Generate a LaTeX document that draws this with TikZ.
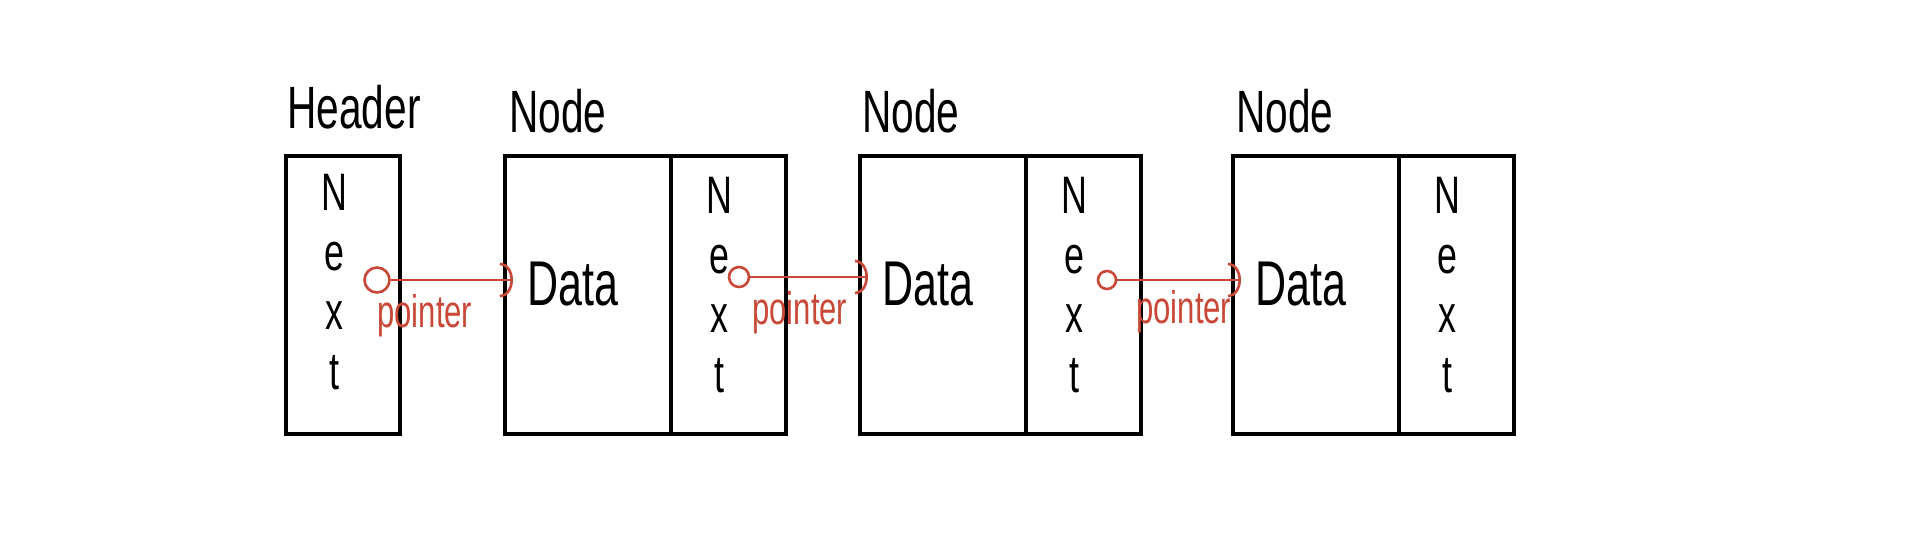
\documentclass[tikz,border=0pt]{standalone}
\usepackage{fontspec}
\newfontfamily\hand[FakeStretch=0.68]{Liberation Sans}
\usetikzlibrary{positioning,arrows.meta}
\definecolor{ptrred}{RGB}{201,72,55}
\tikzset{
  cell/.style={draw,line width=2pt,minimum height=5.56cm,inner sep=0pt,outer sep=0pt},
  datacell/.style={cell,minimum width=3.32cm},
  nextcell/.style={cell,minimum width=2.3cm},
  handtext/.style={inner sep=0pt,align=center,font=\hand\fontsize{34}{38}\selectfont},
  nexttext/.style={handtext,font=\hand\fontsize{30}{34}\selectfont,xshift=-0.18cm,yshift=0.2cm},
  datatext/.style={handtext,font=\hand\fontsize{36}{40}\selectfont,xshift=-0.3cm,yshift=0.22cm},
  title/.style={handtext},
  ptr/.style={circle,draw=ptrred,line width=1.5pt,minimum size=0.4cm,inner sep=0pt},
  link/.style={ptrred,line width=1.5pt,-{Arc Barb[length=2.6mm,width=7mm,line width=1.5pt]},shorten >=-0.16cm},
  ptrlbl/.style={inner sep=0pt,text=ptrred,font=\hand\fontsize{26}{28}\selectfont}
}
\begin{document}
\begin{tikzpicture}
\useasboundingbox (0,0) rectangle (38.64,10.64);
% boxes
\node[nextcell,minimum width=2.28cm] (hdr) at (6.86,4.74) {};
\node[datacell] (data1) at (11.76,4.74) {};
\node[nextcell,right=0pt of data1] (next1) {};
\node[datacell] (data2) at (18.86,4.74) {};
\node[nextcell,right=0pt of data2] (next2) {};
\node[datacell] (data3) at (26.32,4.74) {};
\node[nextcell,right=0pt of data3] (next3) {};
% texts in the boxes
\node[nexttext,yshift=0.06cm] (nhdr) at (hdr) {N\\e\\x\\t};
\foreach \i in {1,2,3} {
  \node[datatext] (d\i) at (data\i) {Data};
  \node[nexttext] (n\i) at (next\i) {N\\e\\x\\t};
}
% titles
\node[title,above right=0.54cm and 0.02cm of hdr.north west] (thdr) {Header};
\node[title,above right=0.46cm and 0.08cm of data1.north west] (tnode1) {Node};
\node[title,above right=0.46cm and 0.04cm of data2.north west] (tnode2) {Node};
\node[title,above right=0.46cm and 0.06cm of data3.north west] (tnode3) {Node};
% pointers
\node[ptr,minimum size=0.5cm] (c1) at (7.54,5.04) {};
\node[ptr] (c2) at (14.78,5.10) {};
\node[ptr,minimum size=0.36cm] (c3) at (22.14,5.04) {};
\draw[link] (c1) -- (c1 -| data1.west);
\draw[link] (c2) -- (c2 -| data2.west);
\draw[link] (c3) -- (c3 -| data3.west);
\node[ptrlbl,below right=0pt and 0pt of c1.south] (l1) {pointer};
\node[ptrlbl,below right=0.05cm and 0.26cm of c2.south] (l2) {pointer};
\node[ptrlbl,below right=0pt and 0.58cm of c3.south] (l3) {pointer};
\end{tikzpicture}
\end{document}
